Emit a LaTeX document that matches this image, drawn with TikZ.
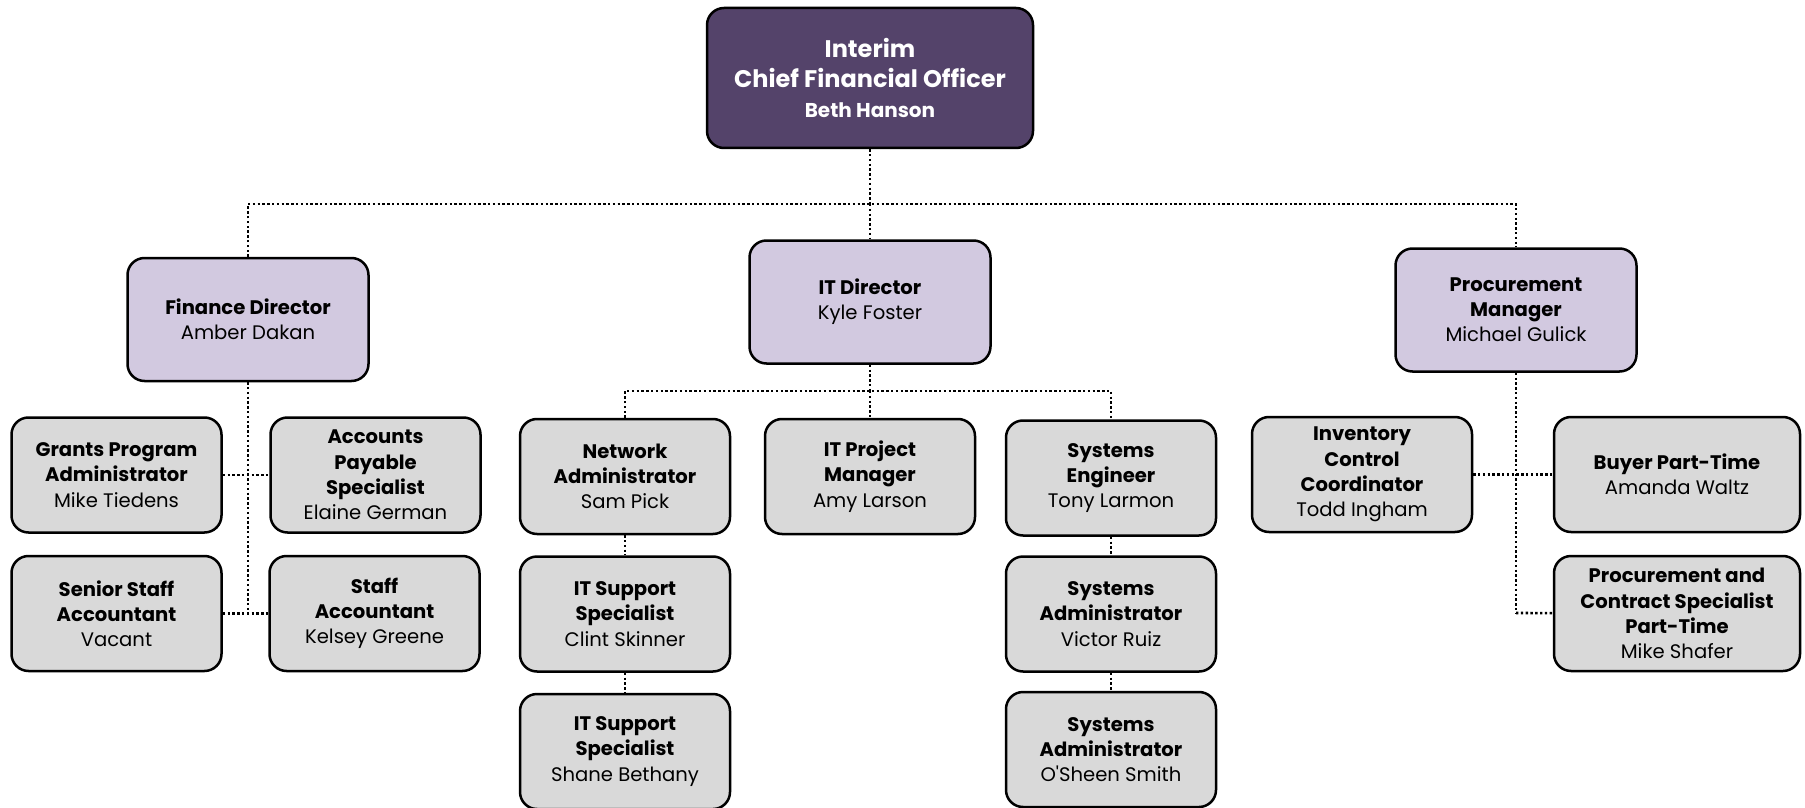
\documentclass[tikz,border=0pt]{standalone}
\usepackage{fontspec}
\setmainfont{Poppins}
\usetikzlibrary{positioning}
\definecolor{cfopurple}{HTML}{54436A}
\definecolor{dirlilac}{HTML}{D2C9E0}
\definecolor{staffgray}{HTML}{D9D9D9}
\tikzset{%
	box/.style      = {draw, rectangle, rounded corners=8.5pt, line width=1.25pt, align=center, inner sep=0pt,
	                   font=\fontsize{9.8}{12.6}\selectfont\bfseries},
	chief/.style    = {box, fill=cfopurple, text=white, minimum width=163pt, minimum height=70pt,
	                   font=\fontsize{12}{15}\selectfont\bfseries}, % CFO
	director/.style = {box, fill=dirlilac, minimum width=120.5pt, minimum height=61.5pt}, % Directors
	staff/.style    = {box, fill=staffgray, minimum width=105pt, minimum height=57.5pt}, % Staff
	link/.style     = {line width=1.3pt, dash pattern=on 1.2pt off 1.2pt}, % Dotted connector
}
\begin{document}
\begin{tikzpicture}[x=0.5pt, y=-0.5pt]
	\useasboundingbox (0,0) rectangle (1805,808);
	% top level
	\node[chief] (cfo) at (870,78) {Interim\\Chief Financial Officer\\{\fontsize{10}{13}\selectfont Beth Hanson}};
	\node[director] (fin) at (248,319.5) {Finance Director\\\mdseries Amber Dakan};
	\node[director] (it) at (870,302) {IT Director\\\mdseries Kyle Foster};
	\node[director] (proc) at (1516,310) {Procurement\\Manager\\\mdseries Michael Gulick};
	% finance
	\node[staff] (grants) at (116.5,475) {Grants Program\\Administrator\\\mdseries Mike Tiedens};
	\node[staff] (payable) at (375.5,475) {Accounts\\Payable\\Specialist\\\mdseries Elaine German};
	\node[staff] (senior) at (116.5,613.5) {Senior Staff\\Accountant\\\mdseries Vacant};
	\node[staff] (acct) at (374.5,613.5) {Staff\\Accountant\\\mdseries Kelsey Greene};
	% it
	\node[staff] (net) at (625,476.5) {Network\\Administrator\\\mdseries Sam Pick};
	\node[staff] (itpm) at (870,476.5) {IT Project\\Manager\\\mdseries Amy Larson};
	\node[staff] (syseng) at (1111,478) {Systems\\Engineer\\\mdseries Tony Larmon};
	\node[staff] (supA) at (625,614) {IT Support\\Specialist\\\mdseries Clint Skinner};
	\node[staff] (supB) at (625,751.5) {IT Support\\Specialist\\\mdseries Shane Bethany};
	\node[staff] (sysA) at (1111,614) {Systems\\Administrator\\\mdseries Victor Ruiz};
	\node[staff] (sysB) at (1111,749.5) {Systems\\Administrator\\\mdseries O\textquotesingle Sheen Smith};
	% procurement
	\node[staff, minimum width=110pt] (inv) at (1362,474.5) {Inventory\\Control\\Coordinator\\\mdseries Todd Ingham};
	\node[staff, minimum width=123pt] (buyer) at (1677,474.5) {Buyer Part-Time\\\mdseries Amanda Waltz};
	\node[staff, minimum width=123pt] (pcs) at (1677,613.5) {Procurement and\\Contract Specialist\\Part-Time\\\mdseries Mike Shafer};
	% connectors
	\coordinate (bus) at (870,204);
	\coordinate (itbus) at (870,391);
	\coordinate (finend) at (248,613);
	\coordinate (procend) at (1516,613);
	\draw[link] (cfo) -- (bus);
	\draw[link] (fin.north) |- (bus) -| (proc.north);
	\draw[link] (bus) -- (it);
	\draw[link] (fin) -- (finend);
	\draw[link] (grants) -- (payable);
	\draw[link] (senior) -- (acct);
	\draw[link] (it) -- (itbus);
	\draw[link] (net.north) |- (itbus) -| (syseng.north);
	\draw[link] (itbus) -- (itpm);
	\draw[link] (net) -- (supA);
	\draw[link] (supA) -- (supB);
	\draw[link] (syseng) -- (sysA);
	\draw[link] (sysA) -- (sysB);
	\draw[link] (proc) -- (procend);
	\draw[link] (inv) -- (buyer);
	\draw[link] (procend) -- (pcs);
\end{tikzpicture}
\end{document}
